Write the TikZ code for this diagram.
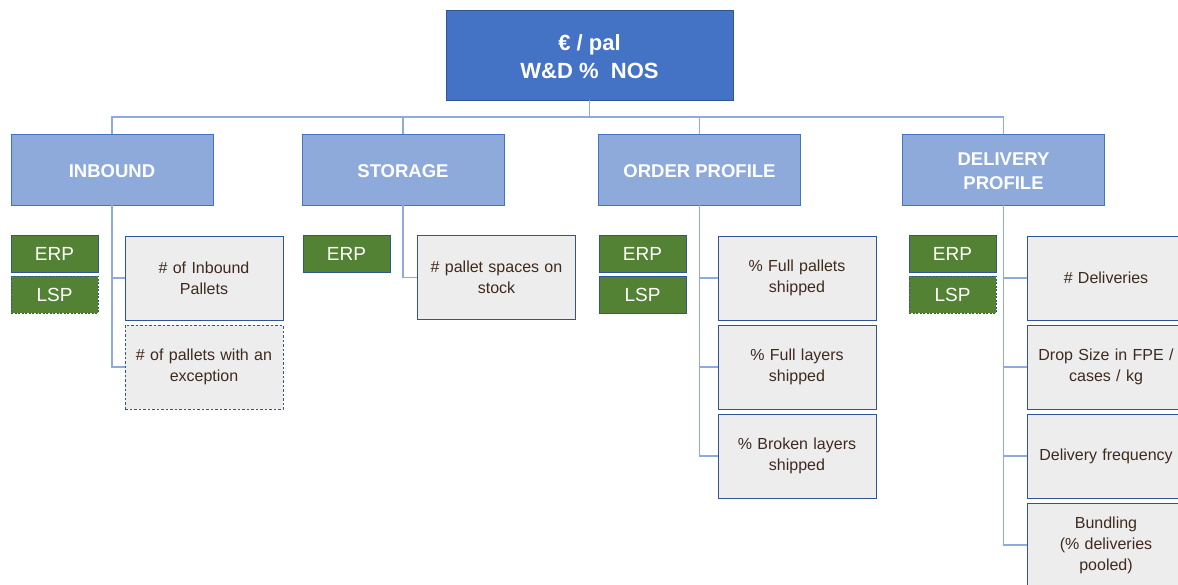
\documentclass[tikz,border=0pt]{standalone}
\usepackage{fontspec}
\setmainfont{Liberation Sans}
\usetikzlibrary{positioning}
\definecolor{topblue}{HTML}{4472C4}
\definecolor{midblue}{HTML}{8EAADB}
\definecolor{edgeblue}{HTML}{2F5597}
\definecolor{connblue}{HTML}{8FAADC}
\definecolor{boxgrey}{HTML}{EDEDED}
\definecolor{erpgreen}{HTML}{548235}
\definecolor{txtbrown}{HTML}{3F2A1E}
\tikzset{
  x=1pt, y=-1pt,
  topbox/.style={draw=edgeblue, line width=0.8pt, fill=topblue, text=white,
    minimum width=287pt, minimum height=90pt, inner sep=0pt, align=center,
    font=\fontsize{22}{28}\selectfont\bfseries},
  catbox/.style={draw=topblue, line width=0.8pt, fill=midblue, text=white,
    minimum width=202pt, minimum height=71pt, inner sep=0pt, align=center,
    font=\fontsize{18.5}{24}\selectfont\bfseries},
  srcbox/.style={draw=edgeblue, line width=0.7pt, fill=erpgreen, text=white,
    minimum width=87pt, minimum height=37pt, inner sep=0pt,
    font=\fontsize{19}{22}\selectfont},
  srcdash/.style={srcbox, dash pattern=on 2pt off 1.5pt},
  kpibox/.style={draw=edgeblue, line width=0.7pt, fill=boxgrey, text=txtbrown,
    minimum width=158pt, minimum height=84pt, inner sep=0pt, align=center,
    text width=150pt, font=\fontsize{16}{21}\selectfont},
  kpidash/.style={kpibox, dash pattern=on 2.5pt off 2pt},
  conn/.style={draw=connblue, line width=1.3pt}
}
\begin{document}
\begin{tikzpicture}
\useasboundingbox (0,0) rectangle (1178,585);
\clip (0,0) rectangle (1178,585);
\coordinate (bus) at (0,117);
% top
\node[topbox] (top) at (589.5,55) {\rule{0pt}{20pt}€ / pal\\W\&D \%\ \ NOS};
% categories
\node[catbox] (inb) at (112,169.5) {\rule{0pt}{16pt}INBOUND};
\node[catbox] (sto) at (403,169.5) {\rule{0pt}{16pt}STORAGE};
\node[catbox] (ord) at (699.5,169.5) {\rule{0pt}{16pt}ORDER PROFILE};
\node[catbox] (del) at (1003.5,169.5) {\rule{0pt}{16pt}DELIVERY\\PROFILE};
% sources
\node[srcbox] (inbE) at (54.5,253.5) {ERP};
\node[srcdash] (inbL) at (54.5,294.5) {LSP};
\node[srcbox] (stoE) at (346.5,253.5) {ERP};
\node[srcbox] (ordE) at (642.5,253.5) {ERP};
\node[srcbox] (ordL) at (642.5,294.5) {LSP};
\node[srcbox] (delE) at (952.5,253.5) {ERP};
\node[srcdash] (delL) at (952.5,294.5) {LSP};
% kpis
\node[kpibox] (i1) at (204,278) {\# of Inbound\\Pallets};
\node[kpidash] (i2) at (204,367) {\# of pallets with an\\exception};
\node[kpibox] (s1) at (496.5,277.5) {\# pallet spaces on\\stock};
\node[kpibox] (o1) at (797,278) {\% Full pallets\\shipped};
\node[kpibox] (o2) at (797,367) {\% Full layers\\shipped};
\node[kpibox] (o3) at (797,456) {\% Broken layers\\shipped};
\node[kpibox] (d1) at (1106,278) {\# Deliveries};
\node[kpibox] (d2) at (1106,367) {Drop Size in FPE /\\cases / kg};
\node[kpibox] (d3) at (1106,456) {Delivery frequency};
\node[kpibox] (d4) at (1106,545) {Bundling\\(\% deliveries\\pooled)};
% connectors
\draw[conn] (top.south) -- (top.south |- bus);
\draw[conn] (inb.north) -- (inb.north |- bus) -- (del.north |- bus) -- (del.north);
\draw[conn] (sto.north) -- (sto.north |- bus);
\draw[conn] (ord.north) -- (ord.north |- bus);
\draw[conn] (inb.south) |- (i1.west);
\draw[conn] (inb.south) |- (i2.west);
\draw[conn] (sto.south) |- (s1.west);
\draw[conn] (ord.south) |- (o1.west);
\draw[conn] (ord.south) |- (o2.west);
\draw[conn] (ord.south) |- (o3.west);
\draw[conn] (del.south) |- (d1.west);
\draw[conn] (del.south) |- (d2.west);
\draw[conn] (del.south) |- (d3.west);
\draw[conn] (del.south) |- (d4.west);
\end{tikzpicture}
\end{document}
